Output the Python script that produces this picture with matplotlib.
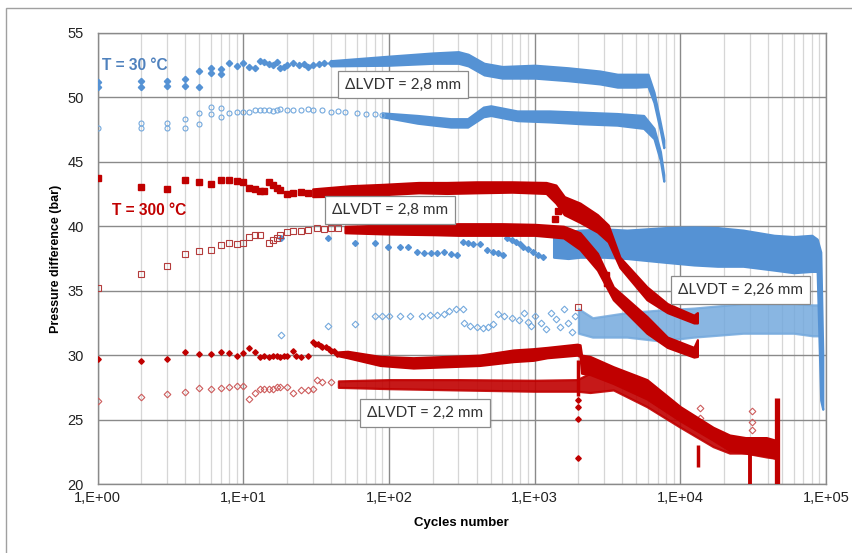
import numpy as np
import matplotlib
matplotlib.use("Agg")
from matplotlib import pyplot as plt
from matplotlib.patches import Rectangle
from matplotlib.ticker import FixedLocator, FuncFormatter, LogLocator, NullFormatter

# ---- T = 30 C, dLVDT = 2,8 mm : upper (filled) ----
a_x = [1, 1, 2, 2, 3, 3, 4, 4, 5, 5, 6, 6, 7, 7, 8, 9, 10, 11, 12, 13, 14, 15, 16, 17, 18, 19, 20, 22, 24, 26, 28, 30, 33, 36, 40]
a_y = [51.22, 50.78, 51.27, 50.78, 51.25, 50.9, 51.4, 50.86, 52.07, 50.78, 52.26, 51.87, 52.18, 51.84, 52.65, 52.42, 52.67,
       52.4, 52.3, 52.8, 52.75, 52.6, 52.5, 52.75, 52.3, 52.4, 52.55, 52.65, 52.5, 52.6, 52.4, 52.55, 52.6, 52.65, 52.7]
a_bx = [40, 100, 200, 300, 350, 450, 600, 1000, 1700, 2800, 3700, 5000, 6000, 6600, 7300, 7700]
a_lo = [52.45, 52.5, 52.65, 52.65, 52.45, 51.75, 51.5, 51.5, 51.3, 51.05, 50.8, 50.8, 50.85, 49.6, 47.4, 46.1]
a_hi = [52.85, 53.2, 53.45, 53.55, 53.35, 52.65, 52.4, 52.5, 52.3, 52.05, 51.8, 51.8, 51.8, 50.4, 48.0, 46.7]

# ---- T = 30 C, dLVDT = 2,8 mm : lower (hollow) ----
b_x = [1, 2, 2, 3, 3, 4, 4, 5, 5, 6, 6, 7, 7, 8, 9, 10, 11, 12, 13, 14, 15, 16, 17, 18, 20, 22, 25, 28, 30, 35, 40, 45, 50, 60, 70, 80, 90]
b_y = [47.6, 48.04, 47.6, 48.04, 47.6, 48.3, 47.65, 48.77, 47.94, 49.23, 48.7, 49.15, 48.5, 48.77, 48.85, 48.85,
       48.9, 49.0, 49.0, 49.05, 49.0, 48.95, 49.05, 49.1, 49.0, 49.05, 49.0, 49.1, 49.0, 49.0, 48.9, 48.95, 48.85, 48.8, 48.75, 48.7, 48.65]
b_bx = [90, 157, 265, 347, 445, 500, 760, 1270, 2160, 3680, 5600, 6600, 7300, 7700]
b_lo = [48.5, 48.0, 47.7, 47.7, 48.5, 48.6, 48.2, 48.1, 47.95, 47.85, 47.6, 46.8, 45.1, 43.5]
b_hi = [48.8, 48.6, 48.35, 48.35, 49.25, 49.35, 48.95, 48.95, 48.85, 48.75, 48.6, 47.6, 45.8, 44.0]

# ---- T = 300 C, dLVDT = 2,8 mm : upper (filled squares) ----
c_x = [1, 2, 3, 4, 5, 6, 7, 8, 9, 10, 11, 12, 13, 14, 15, 16, 17, 18, 20, 22, 25, 28, 1390, 1450, 3100, 3150]
c_y = [43.72, 43.07, 42.87, 43.57, 43.41, 43.28, 43.6, 43.59, 43.51, 43.46, 43.0, 42.87, 42.76, 42.7, 43.46, 43.2,
       43.0, 42.8, 42.5, 42.55, 42.65, 42.6, 40.6, 41.2, 36.2, 35.6]
c_bx = [30, 55, 90, 160, 250, 400, 700, 1200, 1400, 1600, 2050, 2700, 3200, 3850, 5900, 8150, 12400, 13100]
c_lo = [42.3, 42.35, 42.45, 42.6, 42.55, 42.6, 42.65, 42.55, 41.8, 40.9, 40.3, 39.55, 38.8, 36.8, 34.3, 33.3, 32.5, 32.5]
c_hi = [42.9, 43.15, 43.25, 43.4, 43.4, 43.45, 43.45, 43.4, 43.2, 42.3, 41.8, 40.9, 40.1, 37.6, 35.3, 34.0, 33.1, 33.3]

# ---- T = 300 C, dLVDT = 2,8 mm : lower (hollow squares) ----
d_x = [1, 2, 3, 4, 5, 6, 7, 8, 9, 10, 11, 12, 13, 15, 16, 17, 18, 20, 22, 25, 28, 32, 36, 40, 45, 1980]
d_y = [35.19, 36.3, 36.92, 37.85, 38.08, 38.16, 38.55, 38.68, 38.6, 38.68, 39.14, 39.32, 39.35, 38.68, 38.9, 39.1,
       39.3, 39.58, 39.6, 39.6, 39.7, 39.85, 39.8, 39.85, 39.85, 33.7]
d_bx = [50, 100, 200, 300, 600, 1000, 1580, 2050, 2700, 3470, 5900, 8150, 12400, 13100]
d_lo = [39.5, 39.4, 39.35, 39.3, 39.3, 39.3, 39.1, 38.2, 36.6, 34.3, 31.7, 30.6, 29.85, 29.9]
d_hi = [40.0, 40.1, 40.1, 40.2, 40.2, 40.15, 40.0, 39.5, 37.9, 35.3, 33.0, 31.4, 30.6, 31.2]

# ---- T = 300 C, dLVDT = 2,2 mm : upper (filled) ----
e_x = [1, 2, 3, 4, 5, 6, 7, 8, 9, 10, 11, 12, 13, 14, 15, 16, 17, 18, 19, 20, 22, 23, 25, 28,
       30, 31, 32.7, 34, 35, 37, 39, 40, 42, 44, 1990, 1990, 1990, 1990, 5800]
e_y = [29.70, 29.57, 29.67, 30.22, 30.06, 30.06, 30.22, 30.14, 29.96, 30.14, 30.58, 30.27, 29.85, 29.9, 29.85, 29.9,
       29.9, 29.85, 29.95, 29.9, 30.34, 29.9, 29.85, 29.95,
       31.05, 30.85, 30.9, 30.7, 30.6, 30.6, 30.45, 30.3, 30.35, 30.1, 26.5, 26.0, 25.05, 22.0, 27.8]
e_bx = [45, 52, 87, 147, 250, 420, 715, 980, 1220, 1960, 2050, 2100, 2400, 3470, 5900, 10000, 16800, 21800, 28000, 39000, 45000]
e_lo = [29.95, 29.8, 29.2, 29.0, 29.1, 29.2, 29.5, 29.6, 29.8, 30.0, 29.9, 28.6, 28.5, 27.8, 26.6, 24.9, 23.4, 22.6, 22.4, 22.2, 22.0]
e_hi = [30.25, 30.3, 29.9, 29.8, 29.9, 30.0, 30.4, 30.5, 30.6, 30.85, 30.8, 30.0, 29.9, 29.1, 28.1, 26.0, 24.4, 23.8, 23.6, 23.6, 23.4]
# vertical streaks of the filled 2,2 mm series: cycle, min, max
e_spike_x = [2000, 13200, 30000, 46000]
e_spike_lo = [26.8, 21.3, 20.0, 20.0]
e_spike_hi = [29.6, 23.0, 22.4, 26.7]

# ---- T = 300 C, dLVDT = 2,2 mm : lower (hollow) ----
f_x = [1, 2, 3, 4, 5, 6, 7, 8, 9, 10, 11, 12, 13, 14, 15, 16, 17, 18, 20, 22, 25, 28, 30, 32, 35, 40,
       13700, 13700, 31000, 31000, 31000]
f_y = [26.44, 26.78, 26.98, 27.16, 27.43, 27.35, 27.43, 27.55, 27.6, 27.6, 26.6, 27.05, 27.35, 27.35, 27.4, 27.35,
       27.5, 27.5, 27.5, 27.05, 27.3, 27.3, 27.35, 28.07, 27.95, 27.9,
       25.9, 25.1, 25.7, 24.8, 24.2]
f_bx = [45, 100, 300, 1000, 1960, 2400, 3470, 5900, 10000, 16800, 21800, 28000, 39000, 45000]
f_lo = [27.5, 27.4, 27.3, 27.2, 27.2, 27.1, 27.3, 26.0, 24.4, 22.9, 22.4, 22.4, 22.1, 22.0]
f_hi = [28.0, 28.1, 28.1, 28.05, 28.1, 28.6, 28.2, 27.0, 25.4, 23.8, 23.2, 23.2, 23.0, 23.0]

# ---- T = 30 C, dLVDT = 2,26 mm : upper (filled) ----
g_x = [18.1, 38.2, 58.5, 80, 99, 120, 135, 157, 175, 195, 215, 240, 265, 295, 325, 350, 380, 420, 470, 520,
       560, 610, 650, 700, 750, 790, 830, 900, 970, 1050, 1150]
g_y = [39.07, 39.07, 38.68, 38.68, 38.42, 38.42, 38.42, 38.0, 37.95, 37.9, 37.95, 38.0, 37.85, 37.8, 38.8, 38.7,
       38.6, 38.65, 38.15, 38.0, 37.9, 37.8, 39.1, 38.9, 38.75, 38.6, 38.4, 38.2, 38.0, 37.8, 37.6]
g_bx = [1350, 1700, 2050, 3000, 4300, 8000, 12400, 18000, 27000, 44000, 60000, 80000, 87000, 92000, 95000]
g_lo = [37.6, 37.5, 37.6, 37.6, 37.5, 37.2, 37.0, 36.9, 36.9, 36.6, 36.4, 36.5, 36.5, 26.5, 25.8]
g_hi = [39.4, 39.6, 39.7, 39.8, 39.7, 39.9, 39.95, 39.9, 39.7, 39.3, 39.2, 39.3, 39.0, 38.0, 30.0]

# ---- T = 30 C, dLVDT = 2,26 mm : lower (hollow) ----
h_x = [18.1, 38, 58.5, 80, 90, 100, 120, 140, 170, 190, 215, 240, 260, 290, 320, 330, 360, 400, 440, 480, 520,
       560, 620, 700, 780, 850, 900, 950, 1000, 1100, 1200, 1300, 1400, 1500, 1600, 1700, 1800, 1900]
h_y = [31.6, 32.3, 32.4, 33.0, 33.0, 33.0, 33.0, 33.0, 33.05, 33.1, 33.15, 33.2, 33.4, 33.55, 33.6, 32.5, 32.3,
       32.2, 32.1, 32.2, 32.4, 33.2, 33.0, 32.9, 32.7, 33.3, 32.6, 32.3, 33.0, 32.5, 32.0, 33.3, 32.8, 32.2, 33.6,
       32.5, 31.8, 33.0]
h_bx = [2000, 2500, 4300, 7300, 12400, 27000, 60000, 81000, 90000, 93000]
h_lo = [31.7, 31.4, 31.4, 31.1, 31.4, 31.7, 31.7, 31.5, 31.5, 31.3]
h_hi = [33.6, 32.9, 33.3, 33.5, 33.65, 34.0, 34.0, 33.9, 33.9, 33.5]

x_ticks = [1, 10, 100, 1000, 10000, 100000]
y_ticks = [20, 25, 30, 35, 40, 45, 50, 55]

blue = '#5592d4'
blue_light = '#74a9dd'
red = '#c00000'
red_hollow = '#b43c3c'
red_light = '#cd5c5c'

fig = plt.figure(figsize=(8.52, 5.53), dpi=100)
ax = fig.add_axes([97.5 / 852, 1 - 484 / 553, (826 - 97.5) / 852, (484 - 33) / 553])

# outer chart frame
fig.add_artist(Rectangle((6 / 852, -0.02), 1.0, 1 - 8 / 553 + 0.02, transform=fig.transFigure,
                         fill=False, edgecolor='#a0a0a0', lw=1))

def band(bx, lo, hi, color, z, alpha=1.0):
    ax.fill_between(bx, lo, hi, color=color, alpha=alpha, lw=1.6, edgecolor=color, zorder=z)

# 2,26 mm series (behind)
band(h_bx, h_lo, h_hi, blue_light, 2, 0.85)
ax.plot(h_x, h_y, 'D', ms=3.4, mfc='none', mec=blue_light, mew=0.8, zorder=2)
band(g_bx, g_lo, g_hi, blue, 2.1)
ax.plot(g_x, g_y, 'D', ms=3.0, color=blue, zorder=2.1)

# 300 C series
band(d_bx, d_lo, d_hi, red, 3)
ax.plot(d_x, d_y, 's', ms=4.5, mfc='none', mec=red_hollow, mew=0.8, zorder=3)
band(c_bx, c_lo, c_hi, red, 3.1)
ax.plot(c_x, c_y, 's', ms=4.3, color=red, zorder=3.1)
band(f_bx, f_lo, f_hi, red, 3.2, 0.9)
ax.plot(f_x, f_y, 'D', ms=3.4, mfc='none', mec=red_light, mew=0.8, zorder=3.2)
band(e_bx, e_lo, e_hi, red, 3.3)
ax.plot(e_x, e_y, 'D', ms=2.8, color=red, zorder=3.3)
ax.vlines(e_spike_x, e_spike_lo, e_spike_hi, color=red, lw=[2.5, 2.5, 2.8, 3.8], zorder=3.3)

# 30 C, 2,8 mm series
band(b_bx, b_lo, b_hi, blue, 4)
ax.plot(b_x, b_y, 'o', ms=3.6, mfc='none', mec=blue_light, mew=0.8, zorder=4)
band(a_bx, a_lo, a_hi, blue, 4.1)
ax.plot(a_x, a_y, 'D', ms=3.2, color=blue, zorder=4.1)

ax.set_xscale('log')
ax.set_xlim(1, 1e5)
ax.set_ylim(20, 55)
ax.xaxis.set_major_locator(FixedLocator(x_ticks))
ax.xaxis.set_minor_locator(LogLocator(base=10, subs=np.arange(2, 10)))
ax.xaxis.set_minor_formatter(NullFormatter())
ax.xaxis.set_major_formatter(FuncFormatter(lambda v, p: '1,E+%02d' % round(np.log10(v))))
ax.set_yticks(y_ticks)
ax.grid(which='major', color='#8a8a8a', lw=1.0, zorder=0)
ax.grid(which='minor', axis='x', color='#d6d6d6', lw=0.9, zorder=0)
ax.set_axisbelow(True)
for s in ax.spines.values():
    s.set_color('#8a8a8a')
    s.set_linewidth(1.0)
ax.tick_params(which='both', length=0, labelsize=10.5, colors='#222222')
ax.tick_params(axis='y', pad=10)
ax.tick_params(axis='x', pad=5)
for lab in ax.get_xticklabels() + ax.get_yticklabels():
    lab.set_family('Liberation Sans')

ax.set_xlabel('Cycles number', fontsize=9.5, fontweight='bold', family='Liberation Sans', labelpad=9)
ax.set_ylabel('Pressure difference (bar)', fontsize=9, fontweight='bold', family='Liberation Sans', labelpad=4)

ax.text(1.07, 52.45, 'T = 30 °C', color='#4f81bd', fontsize=11.2, fontweight='bold',
        family='Liberation Sans', va='center', ha='left', zorder=6)
ax.text(1.26, 41.26, 'T = 300 °C', color=red, fontsize=11.2, fontweight='bold',
        family='Liberation Sans', va='center', ha='left', zorder=6)

box = dict(boxstyle='square,pad=0.45', fc='white', ec='#8a8a8a', lw=0.9)
for bx_, by_, txt in [(125, 51.0, 'ΔLVDT = 2,8 mm'), (102, 41.26, 'ΔLVDT = 2,8 mm'),
                      (25900, 35.05, 'ΔLVDT = 2,26 mm'), (177, 25.51, 'ΔLVDT = 2,2 mm')]:
    ax.text(bx_, by_, txt, ha='center', va='center', fontsize=11, color='#333333',
            family=['Lato', 'DejaVu Sans'], bbox=box, zorder=7)

fig.savefig('out.png', dpi=100)
